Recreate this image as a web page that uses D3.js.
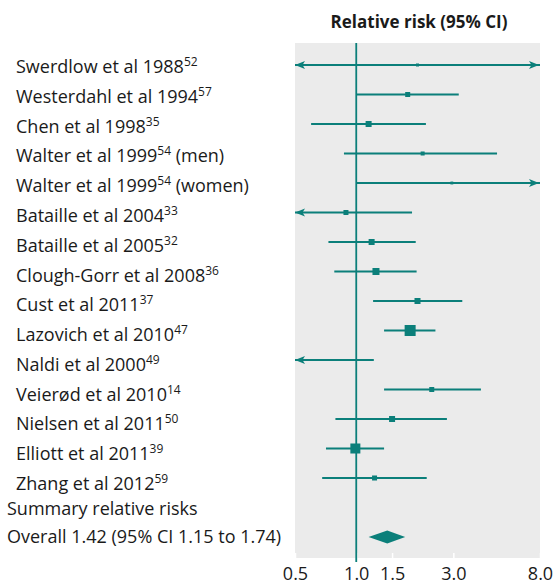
<!DOCTYPE html>
<html>
<head>
<meta charset="utf-8">
<script src="https://cdn.jsdelivr.net/npm/d3@7"></script>
<style>
  html, body { margin: 0; padding: 0; background: #fff; }
  svg { display: block; font-family: "Open Sans", "Noto Sans", sans-serif; }
</style>
</head>
<body>
<svg id="chart" width="555" height="585"></svg>
<script>
// Study labels, reference numbers and subgroup notes
const studies = [
  "Swerdlow et al 1988", "Westerdahl et al 1994", "Chen et al 1998",
  "Walter et al 1999", "Walter et al 1999", "Bataille et al 2004",
  "Bataille et al 2005", "Clough-Gorr et al 2008", "Cust et al 2011",
  "Lazovich et al 2010", "Naldi et al 2000", "Veierød et al 2010",
  "Nielsen et al 2011", "Elliott et al 2011", "Zhang et al 2012"
];
const refs = ["52", "57", "35", "54", "54", "33", "32", "36", "37", "47", "49", "14", "50", "39", "59"];
const notes = ["", "", "", "(men)", "(women)", "", "", "", "", "", "", "", "", "", ""];

// Relative risks with 95% confidence limits
const rr    = [2.00, 1.79, 1.15, 2.12, 2.95, 0.89, 1.19, 1.25, 2.00, 1.84, 0.45, 2.35, 1.50, 0.99, 1.23];
const lower = [0.30, 1.00, 0.60, 0.87, 1.00, 0.40, 0.73, 0.78, 1.21, 1.37, 0.10, 1.37, 0.79, 0.71, 0.68];
const upper = [13.0, 3.19, 2.20, 4.92, 9.50, 1.88, 1.96, 1.98, 3.32, 2.45, 1.22, 4.10, 2.79, 1.37, 2.22];
// Study weights (%) setting marker size
const weights = [0.9, 2.5, 3.6, 1.6, 0.8, 2.5, 3.6, 4.9, 3.6, 12.1, 2.0, 2.5, 3.6, 10.0, 2.5];

// Pooled estimate
const overall = { rr: 1.42, lo: 1.15, hi: 1.74 };
const summaryLabel = "Summary relative risks";
const overallLabel = "Overall 1.42 (95% CI 1.15 to 1.74)";

const axisTicks = [0.5, 1.0, 1.5, 3.0, 8.0];
const title = "Relative risk (95% CI)";

const teal = "#0b7f7a";
const panelBg = "#ebebeb";
const ink = "#1a1a1a";

const svg = d3.select("#chart");

const x = d3.scaleLog().domain([0.5, 8]).range([295, 540]);
const rowKeys = studies.map((d, i) => "s" + i).concat(["summary", "overall"]);
const y = d3.scalePoint().domain(rowKeys).range([65, 537]);
// Baselines of the study labels on the left
const yLabel = d3.scalePoint().domain(rowKeys.slice(0, studies.length)).range([73, 490]);
const size = d3.scaleSqrt().domain([0, d3.max(weights)]).range([0, 11]);

const panelTop = 43, panelBottom = 558;

// Shaded plot panel
svg.append("rect")
  .attr("x", x.range()[0]).attr("y", panelTop)
  .attr("width", x.range()[1] - x.range()[0])
  .attr("height", panelBottom - panelTop)
  .attr("fill", panelBg);

svg.append("defs").append("clipPath").attr("id", "panel")
  .append("rect")
  .attr("x", x.range()[0]).attr("y", panelTop)
  .attr("width", x.range()[1] - x.range()[0])
  .attr("height", panelBottom - panelTop);

// Axis: white inward ticks and labels below
const axis = svg.append("g")
  .attr("transform", `translate(0,${panelBottom})`)
  .call(d3.axisBottom(x).tickValues(axisTicks).tickFormat(d3.format(".1f"))
    .tickSizeInner(-5).tickSizeOuter(0).tickPadding(9));
axis.select(".domain").remove();
axis.selectAll(".tick line").attr("stroke", "#fff").attr("stroke-width", 1.5);
axis.selectAll(".tick text")
  .attr("font-size", 18).attr("fill", ink)
  .attr("font-family", "'Open Sans', 'Noto Sans', sans-serif");

// Line of no effect
svg.append("line")
  .attr("x1", x(1)).attr("x2", x(1))
  .attr("y1", panelTop).attr("y2", 562)
  .attr("stroke", teal).attr("stroke-width", 1.8);

// Title
svg.append("text")
  .attr("x", 419).attr("y", 28)
  .attr("text-anchor", "middle")
  .attr("font-size", 17).attr("font-weight", "bold")
  .attr("fill", ink)
  .text(title);

// Study rows
const [xmin, xmax] = x.domain();
const plot = svg.append("g").attr("clip-path", "url(#panel)");
const rows = plot.selectAll("g.row")
  .data(studies.map((s, i) => ({ i, rr: rr[i], lo: lower[i], hi: upper[i], w: weights[i] })))
  .join("g").attr("class", "row")
  .attr("transform", d => `translate(0,${y("s" + d.i)})`);

rows.append("line")
  .attr("x1", d => x(Math.max(d.lo, xmin)))
  .attr("x2", d => x(Math.min(d.hi, xmax)))
  .attr("stroke", teal).attr("stroke-width", 2);

// Arrowheads where the interval runs past the axis
const ah = 10, aw = 4;
rows.filter(d => d.lo < xmin).append("path")
  .attr("d", () => { const t = x(xmin); return `M${t},0L${t + ah},${-aw}L${t + ah - 2.5},0L${t + ah},${aw}Z`; })
  .attr("fill", teal);
rows.filter(d => d.hi > xmax).append("path")
  .attr("d", () => { const t = x(xmax) - 1; return `M${t},0L${t - ah},${-aw}L${t - ah + 2.5},0L${t - ah},${aw}Z`; })
  .attr("fill", teal);

rows.append("rect")
  .attr("x", d => x(d.rr) - size(d.w) / 2)
  .attr("y", d => -size(d.w) / 2)
  .attr("width", d => size(d.w))
  .attr("height", d => size(d.w))
  .attr("fill", teal);

// Pooled diamond
const oy = y("overall"), dh = 6.5;
svg.append("path")
  .attr("d", `M${x(overall.lo)},${oy}L${x(overall.rr)},${oy - dh}L${x(overall.hi)},${oy}L${x(overall.rr)},${oy + dh}Z`)
  .attr("fill", teal);

// Left-hand labels
const labels = svg.append("g").attr("font-size", 18).attr("fill", ink);
studies.forEach((s, i) => {
  const t = labels.append("text").attr("x", 16).attr("y", yLabel("s" + i));
  t.append("tspan").text(s);
  t.append("tspan").attr("font-size", 12).attr("dy", -7).text(refs[i]);
  if (notes[i]) t.append("tspan").attr("dy", 7).text(" " + notes[i]);
});
labels.append("text").attr("x", 7).attr("y", y("summary") + 7).text(summaryLabel);
labels.append("text").attr("x", 7).attr("y", y("overall") + 6).text(overallLabel);
</script>
</body>
</html>
